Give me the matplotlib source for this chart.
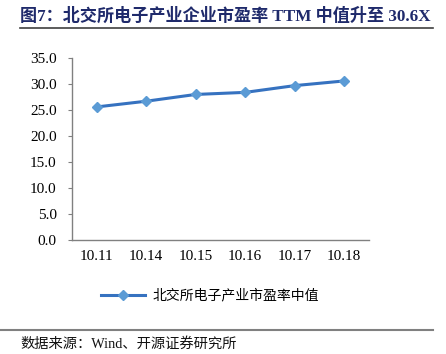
import matplotlib
matplotlib.use("Agg")
import matplotlib.pyplot as plt
from matplotlib.lines import Line2D

plt.rcParams['font.family'] = ['Liberation Serif', 'Noto Sans CJK SC', 'DejaVu Sans']

dates = ['10.11', '10.14', '10.15', '10.16', '10.17', '10.18']
pe_median = [25.6, 26.7, 28.0, 28.4, 29.7, 30.6]
series_name = '北交所电子产业市盈率中值'
title = '图7：北交所电子产业企业市盈率 TTM 中值升至 30.6X'
source = '数据来源：Wind、开源证券研究所'

fig = plt.figure(figsize=(4.46, 3.54), dpi=100)
ax = fig.add_axes([0.1614, 0.322, 0.666, 0.514])

x = range(len(dates))
ax.plot(x, pe_median, color='#3672C0', lw=2.2, marker='D', ms=5,
        mfc='#5B9BD5', mec='#5B9BD5')
ax.set_xlim(-0.5, len(dates) - 0.5)
ax.set_ylim(0, 35)
ax.set_yticks(range(0, 36, 5))
ax.set_yticklabels([f'{v:.1f}' for v in range(0, 36, 5)], fontsize=11)
ax.set_xticks(list(x))
ax.set_xticklabels(dates, fontsize=11)
ax.tick_params(axis='x', length=0, pad=7)
ax.tick_params(axis='y', length=3, color='#808080', pad=8)
for s in ['top', 'right']:
    ax.spines[s].set_visible(False)
for s in ['left', 'bottom']:
    ax.spines[s].set_color('#808080')
    ax.spines[s].set_linewidth(1.0)

handle = Line2D([], [], color='#3672C0', lw=2.2, marker='D', ms=5,
                mfc='#5B9BD5', mec='#5B9BD5')
fig.legend([handle], [series_name], loc='center', bbox_to_anchor=(0.47, 0.165),
           frameon=False, handlelength=3.2, handletextpad=0.5,
           prop={'family': ['Noto Sans CJK SC'], 'size': 10, 'weight': 'light'})

fig.text(0.045, 0.955, title, fontsize=12.3, fontweight='bold', color='#1F2A6B',
         va='center', ha='left', family=['Liberation Serif', 'Noto Sans CJK SC'])
fig.add_artist(Line2D([0.045, 0.97], [0.92, 0.92], color='#404040', lw=1.2))
fig.add_artist(Line2D([0.0, 0.97], [0.068, 0.068], color='#808080', lw=1.5))
fig.text(0.045, 0.028, source, fontsize=10.3, color='#111111', va='center', ha='left',
         family=['Liberation Serif', 'Noto Sans CJK SC'])

fig.savefig('out.png', dpi=100)
